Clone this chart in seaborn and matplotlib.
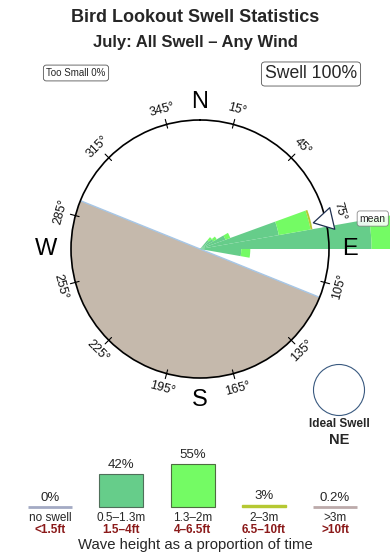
import numpy as np
import pandas as pd
import matplotlib
matplotlib.use("Agg")
import matplotlib.pyplot as plt
from matplotlib.patches import Ellipse
import seaborn as sns

# ---------------- data ----------------
directions = [45, 55, 65, 75, 85, 95]          # bin centres (deg, compass)
bin_width = 10
band_small = [9, 12, 21, 62, 133, 32]           # 0.5–1.3 m  (radial length, circle = 100)
band_mid = [3, 3, 4, 25, 40, 7]                 # 1.3–2 m
band_big = [0, 0, 0, 1.5, 0, 0]                 # 2–3 m
circle_r = 100
land_from, land_to = 112, 292                   # land sector (clockwise through S)
mean_dir = 77
deg_ticks = [15, 45, 75, 105, 135, 165, 195, 225, 255, 285, 315, 345]

legend_cats = ["no swell", "0.5–1.3m", "1.3–2m", "2–3m", ">3m"]
legend_ft = ["<1.5ft", "1.5–4ft", "4–6.5ft", "6.5–10ft", ">10ft"]
legend_pct = [0, 42, 55, 3, 0.2]
legend_lbl = ["0%", "42%", "55%", "3%", "0.2%"]

title = "Bird Lookout Swell Statistics"
subtitle = "July: All Swell – Any Wind"

# ---------------- style ----------------
sns.set_theme(style="white")
plt.rcParams["font.family"] = ["Liberation Sans", "DejaVu Sans"]

c_small = "#66cd8a"
c_mid = "#74fb64"
c_big = "#b5c832"
c_land = "#c5b9ac"
c_none = "#a3aac4"
c_huge = "#bcaaaa"
c_red = "#8b1a1a"

W, H = 390, 560
fig = plt.figure(figsize=(W / 100, H / 100), dpi=100)
fig.patch.set_facecolor("white")

# ---------------- rose ----------------
cx, cy, R = 200, 249, 129
ax = fig.add_axes([(cx - R) / W, (H - cy - R) / H, 2 * R / W, 2 * R / H], projection="polar")
ax.set_theta_zero_location("N")
ax.set_theta_direction(-1)
ax.set_ylim(0, circle_r)
ax.grid(False)
ax.set_xticks([])
ax.set_yticks([])
ax.set_facecolor("white")
ax.spines["polar"].set_color("black")
ax.spines["polar"].set_linewidth(1.2)
ax.spines["polar"].set_zorder(4)

# land
land_c = (land_from + land_to) / 2
ax.bar(np.deg2rad(land_c), circle_r, width=np.deg2rad(land_to - land_from),
       color=c_land, edgecolor="none", zorder=1)
ax.plot(np.deg2rad([land_to, land_to]), [circle_r, 0], color="#a7c7e7", lw=1.0, zorder=2)
ax.plot(np.deg2rad([land_from, land_from]), [0, circle_r], color="#a7c7e7", lw=1.0, zorder=2)

# stacked wedges
theta = np.deg2rad(directions)
bottom = np.zeros(len(directions))
for vals, col in [(band_small, c_small), (band_mid, c_mid), (band_big, c_big)]:
    v = np.array(vals, dtype=float)
    ax.bar(theta, v, width=np.deg2rad(bin_width), bottom=bottom, color=col,
           edgecolor="none", clip_on=False, zorder=3)
    bottom = bottom + v

# ticks & degree labels
for b in deg_ticks:
    t = np.deg2rad(b)
    ax.plot([t, t], [97, 104], color="black", lw=0.8, clip_on=False, zorder=4)
    rot = 180 - b if 90 < b < 270 else -b
    ax.text(t, 112, f"{b}°", rotation=rot, rotation_mode="anchor", ha="center", va="center",
            fontsize=9, color="#111111", zorder=6)

for lab, b, r in [("N", 0, 114), ("E", 90, 116), ("S", 180, 117), ("W", 270, 119)]:
    ax.text(np.deg2rad(b), r, lab, ha="center", va="center", fontsize=17, zorder=6,
            color="black")

# mean arrow
ax.annotate("", xy=(np.deg2rad(mean_dir), 88), xytext=(np.deg2rad(mean_dir), 106),
            arrowprops=dict(arrowstyle="simple,head_length=0.7,head_width=0.8,tail_width=0.3",
                            fc="white", ec="#1f2f4f", lw=0.9, mutation_scale=20),
            zorder=5, annotation_clip=False)
ax.text(np.deg2rad(80), 136, "mean", ha="center", va="center", fontsize=7.5, zorder=6,
        bbox=dict(boxstyle="round,pad=0.25", fc="white", ec="#777777", lw=0.6, alpha=0.85))

# ---------------- titles & boxes ----------------
fig.text(0.5, 1 - 18 / H, title, ha="center", va="center", fontsize=13, fontweight="bold")
fig.text(0.5, 1 - 42 / H, subtitle, ha="center", va="center", fontsize=12, fontweight="bold")
fig.text(76 / W, 1 - 73 / H, "Too Small 0%", ha="center", va="center", fontsize=7,
         bbox=dict(boxstyle="round,pad=0.3", fc="white", ec="#555555", lw=0.6))
fig.text(311 / W, 1 - 74 / H, "Swell 100%", ha="center", va="center", fontsize=12.7,
         bbox=dict(boxstyle="round,pad=0.2", fc="white", ec="#555555", lw=0.6))

# ideal swell
fig.add_artist(Ellipse((339 / W, 1 - 390 / H), width=51 / W, height=51 / H,
                       transform=fig.transFigure, fc="white", ec="#3a5a80", lw=0.8))
fig.text(339 / W, 1 - 424 / H, "Ideal Swell", ha="center", va="center", fontsize=8.5,
         fontweight="bold")
fig.text(339 / W, 1 - 440 / H, "NE", ha="center", va="center", fontsize=10.5,
         fontweight="bold")

# ---------------- height legend ----------------
base_y = 507
px_per_pct = 0.78
x0, dx = 50, 71.25
ax2 = fig.add_axes([0, (H - base_y) / H, 1, 60 / H])
df = pd.DataFrame({"cat": legend_cats, "pct": legend_pct})
face = [c_none, c_small, c_mid, c_big, c_huge]
sns.barplot(data=df, x="cat", y="pct", hue="cat", palette=face, legend=False, ax=ax2,
            width=44 / dx, saturation=1)
edge = [c_none, "#4f6f5a", "#4d6d40", c_big, c_huge]
lw = [2.0, 0.8, 0.8, 1.0, 2.0]
for p, ec, w in zip(ax2.patches, edge, lw):
    p.set_edgecolor(ec)
    p.set_linewidth(w)
    p.set_clip_on(False)
ax2.set_xlim(-x0 / dx, (W - x0) / dx)
ax2.set_ylim(0, 60 / px_per_pct)
ax2.axis("off")
for i, (p, lab, cat, ft) in enumerate(zip(legend_pct, legend_lbl, legend_cats, legend_ft)):
    ax2.text(i, p + 3 / px_per_pct, lab, ha="center", va="bottom", fontsize=9.5)
    ax2.text(i, -11 / px_per_pct, cat, ha="center", va="center", fontsize=8.5)
    ax2.text(i, -23 / px_per_pct, ft, ha="center", va="center", fontsize=8.5,
             color=c_red, fontweight="bold")
fig.text(0.5, 1 - 545 / H, "Wave height as a proportion of time", ha="center", va="center",
         fontsize=10.7)

fig.savefig("out.png", dpi=100)
